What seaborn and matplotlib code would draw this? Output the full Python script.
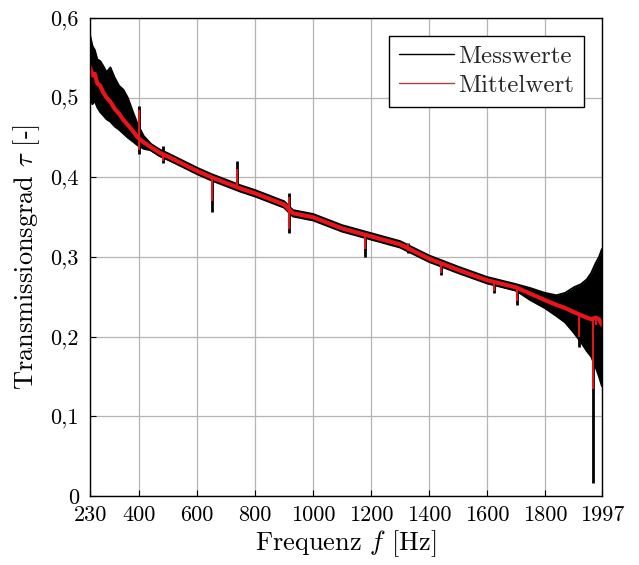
import numpy as np
import pandas as pd
import matplotlib
matplotlib.use("Agg")
import matplotlib.pyplot as plt
from matplotlib.lines import Line2D
import seaborn as sns

# ---------------- data ----------------
freq = [230, 238, 246, 255, 265, 275, 287, 300, 315, 330, 345, 360, 378, 395, 415,
        440, 470, 500, 550, 600, 650, 700, 750, 800, 850, 900, 930, 1000, 1100, 1200,
        1300, 1400, 1500, 1600, 1700, 1750, 1800, 1840, 1870, 1900, 1925, 1945, 1960,
        1975, 1987, 1997]

mittelwert = [0.538, 0.528, 0.530, 0.518, 0.515, 0.507, 0.500, 0.495, 0.486, 0.480,
              0.472, 0.466, 0.458, 0.450, 0.444, 0.438, 0.431, 0.426, 0.417, 0.408,
              0.400, 0.393, 0.386, 0.380, 0.373, 0.366, 0.355, 0.350, 0.336, 0.326,
              0.316, 0.298, 0.284, 0.271, 0.262, 0.254, 0.246, 0.240, 0.236, 0.231,
              0.227, 0.224, 0.222, 0.224, 0.222, 0.215]

mess_1 = [0.578, 0.565, 0.560, 0.548, 0.546, 0.540, 0.532, 0.538, 0.525, 0.515, 0.510,
          0.500, 0.482, 0.466, 0.452, 0.442, 0.435, 0.430, 0.421, 0.412, 0.404, 0.397,
          0.390, 0.384, 0.377, 0.370, 0.359, 0.354, 0.340, 0.330, 0.320, 0.302, 0.288,
          0.275, 0.266, 0.261, 0.255, 0.252, 0.255, 0.262, 0.266, 0.272, 0.280, 0.292,
          0.300, 0.310]
mess_2 = [0.560, 0.548, 0.552, 0.535, 0.532, 0.525, 0.518, 0.515, 0.505, 0.498, 0.490,
          0.482, 0.472, 0.460, 0.449, 0.441, 0.434, 0.429, 0.420, 0.411, 0.403, 0.396,
          0.389, 0.383, 0.376, 0.369, 0.358, 0.353, 0.339, 0.329, 0.319, 0.301, 0.287,
          0.274, 0.265, 0.258, 0.250, 0.246, 0.246, 0.250, 0.252, 0.258, 0.262, 0.272,
          0.280, 0.288]
mess_3 = [0.548, 0.536, 0.538, 0.525, 0.520, 0.512, 0.506, 0.500, 0.492, 0.485, 0.478,
          0.470, 0.462, 0.454, 0.446, 0.439, 0.432, 0.427, 0.418, 0.409, 0.401, 0.394,
          0.387, 0.381, 0.374, 0.367, 0.356, 0.351, 0.337, 0.327, 0.317, 0.299, 0.285,
          0.272, 0.263, 0.255, 0.247, 0.242, 0.238, 0.236, 0.235, 0.236, 0.238, 0.240,
          0.245, 0.250]
mess_4 = [0.530, 0.520, 0.522, 0.510, 0.506, 0.498, 0.492, 0.488, 0.480, 0.474, 0.466,
          0.460, 0.454, 0.447, 0.442, 0.436, 0.429, 0.424, 0.416, 0.407, 0.399, 0.392,
          0.385, 0.379, 0.372, 0.365, 0.354, 0.349, 0.335, 0.325, 0.315, 0.297, 0.283,
          0.270, 0.260, 0.252, 0.244, 0.237, 0.232, 0.226, 0.220, 0.215, 0.212, 0.210,
          0.205, 0.200]
mess_5 = [0.515, 0.505, 0.508, 0.498, 0.494, 0.488, 0.482, 0.478, 0.472, 0.466, 0.460,
          0.455, 0.449, 0.443, 0.439, 0.434, 0.427, 0.422, 0.414, 0.405, 0.397, 0.390,
          0.383, 0.377, 0.370, 0.363, 0.352, 0.347, 0.333, 0.323, 0.313, 0.295, 0.281,
          0.268, 0.258, 0.249, 0.240, 0.232, 0.225, 0.215, 0.205, 0.196, 0.190, 0.182,
          0.172, 0.165]
mess_6 = [0.500, 0.492, 0.496, 0.488, 0.482, 0.478, 0.473, 0.470, 0.464, 0.460, 0.455,
          0.450, 0.445, 0.440, 0.436, 0.434, 0.427, 0.422, 0.413, 0.404, 0.396, 0.389,
          0.382, 0.376, 0.369, 0.362, 0.351, 0.346, 0.332, 0.322, 0.312, 0.294, 0.280,
          0.267, 0.258, 0.246, 0.236, 0.226, 0.218, 0.205, 0.193, 0.182, 0.175, 0.162,
          0.150, 0.138]

# narrow resonance spikes (frequency, lowest / highest value)
spike_freq = [398, 480, 650, 737, 917, 1178, 1328, 1440, 1626, 1703, 1918, 1966, 1975]
spike_mess_low = [0.430, 0.418, 0.357, 0.385, 0.330, 0.300, 0.305, 0.277, 0.255, 0.240,
                  0.187, 0.016, 0.170]
spike_mess_high = [0.490, 0.440, 0.400, 0.420, 0.380, 0.328, 0.318, 0.296, 0.270, 0.262,
                   0.232, 0.222, 0.240]
spike_mittel_low = [0.435, 0.420, 0.370, 0.385, 0.335, 0.310, 0.308, 0.280, 0.258, 0.245,
                    0.200, 0.135, 0.215]
spike_mittel_high = [0.485, 0.430, 0.400, 0.410, 0.375, 0.328, 0.316, 0.294, 0.268, 0.262,
                     0.230, 0.222, 0.226]

x_ticks = [230, 400, 600, 800, 1000, 1200, 1400, 1600, 1800, 1997]
y_ticks = [0, 0.1, 0.2, 0.3, 0.4, 0.5, 0.6]
y_ticklabels = ["0", "0,1", "0,2", "0,3", "0,4", "0,5", "0,6"]

# ---------------- table for seaborn ----------------
mess = [mess_1, mess_2, mess_3, mess_4, mess_5, mess_6]
df_mess = pd.DataFrame({
    "f": np.tile(freq, len(mess)),
    "tau": np.concatenate(mess),
    "run": np.repeat(np.arange(len(mess)), len(freq)),
})
df_mean = pd.DataFrame({"f": freq, "tau": mittelwert})
mess_arr = np.array(mess)

# ---------------- style ----------------
sns.set_theme(style="whitegrid")
plt.rcParams["font.family"] = ["cmr10", "DejaVu Serif"]
plt.rcParams["mathtext.fontset"] = "cm"
plt.rcParams["axes.formatter.use_mathtext"] = True

RED = "#e8151b"

fig = plt.figure(figsize=(6.39, 5.65), dpi=100)
ax = fig.add_axes([0.141, 0.122, 0.801, 0.846])
ax.set_facecolor("white")

# envelope of all measurement runs (solid black mass)
ax.fill_between(freq, mess_arr.min(axis=0), mess_arr.max(axis=0),
                color="black", linewidth=0)
sns.lineplot(data=df_mess, x="f", y="tau", units="run", estimator=None,
             color="black", linewidth=1.4, ax=ax, legend=False)
ax.vlines(spike_freq, spike_mess_low, spike_mess_high, color="black", linewidth=2.0)
sns.lineplot(data=df_mean, x="f", y="tau", color=RED, linewidth=3.0, ax=ax,
             legend=False)
ax.vlines(spike_freq, spike_mittel_low, spike_mittel_high, color=RED, linewidth=1.4)

ax.set_xlim(230, 1997)
ax.set_ylim(0, 0.6)
ax.set_xticks(x_ticks)
ax.set_xticklabels([str(t) for t in x_ticks])
ax.set_yticks(y_ticks)
ax.set_yticklabels(y_ticklabels)

ax.grid(True, color="#b4b4b4", linewidth=0.9)
for s in ax.spines.values():
    s.set_color("black")
    s.set_linewidth(1.0)
    s.set_visible(True)
ax.tick_params(axis="both", direction="in", length=4, width=0.8, color="black",
               labelsize=16, labelcolor="black", bottom=True, left=True)
ax.tick_params(axis="x", pad=7)
ax.tick_params(axis="y", pad=8)

ax.set_xlabel(r"Frequenz $f$ [Hz]", fontsize=19, color="black", labelpad=2)
ax.set_ylabel(r"Transmissionsgrad $\tau$ [-]", fontsize=19, color="black", labelpad=6)

handles = [Line2D([], [], color="black", linewidth=1.0),
           Line2D([], [], color="#b04040", linewidth=1.0)]
leg = ax.legend(handles, ["Messwerte", "Mittelwert"], loc="upper right",
                fontsize=18, frameon=True, fancybox=False, framealpha=1,
                edgecolor="black", borderaxespad=0.7, handlelength=2.2,
                handletextpad=0.2, borderpad=0.4, labelspacing=0.25)
leg.get_frame().set_linewidth(1.0)

fig.savefig("out.png", dpi=100)
